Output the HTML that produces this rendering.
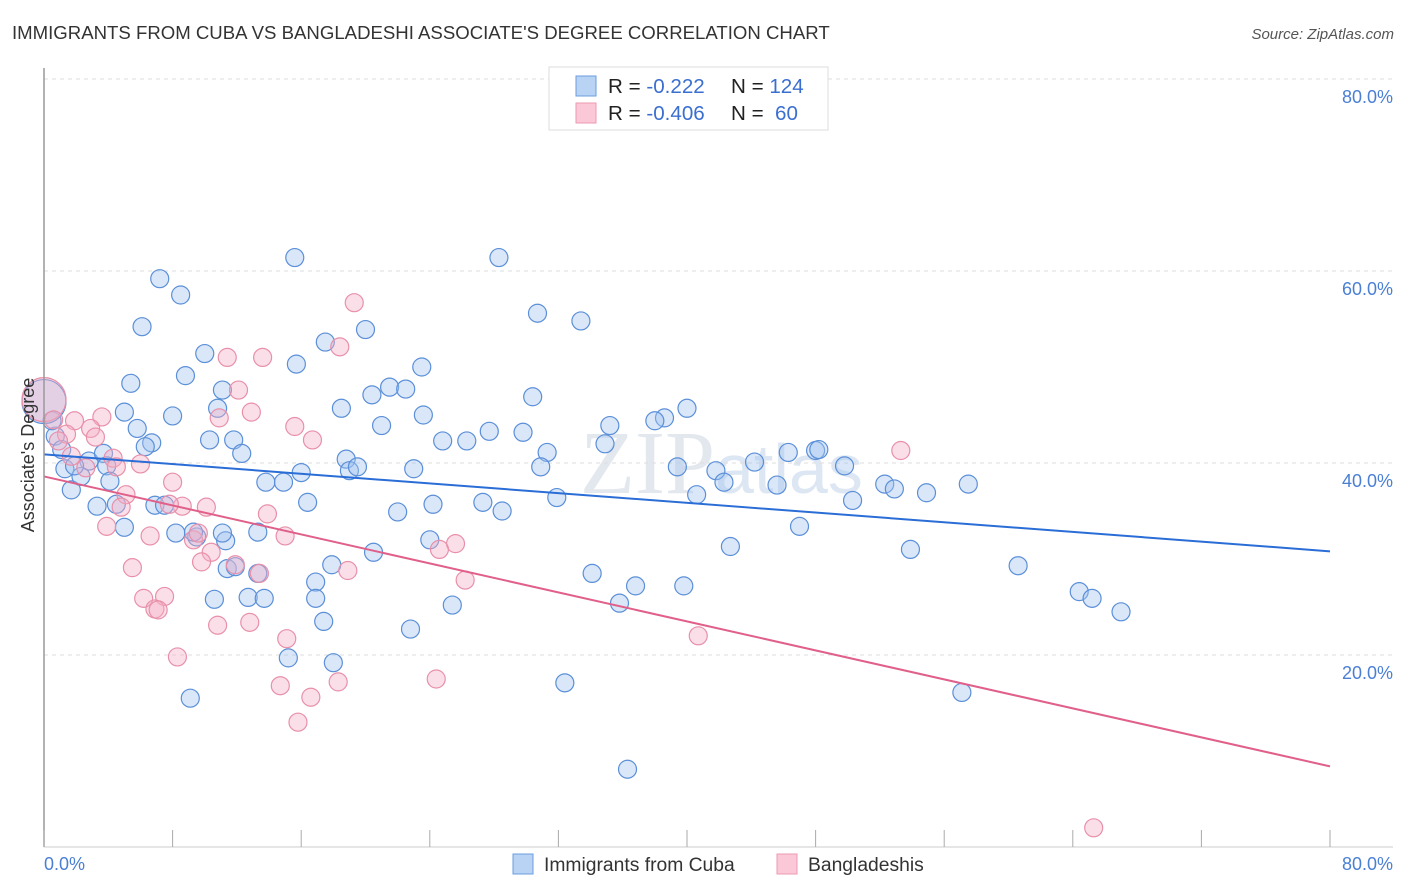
<!DOCTYPE html>
<html><head><meta charset="utf-8"><style>
body{margin:0;background:#fff;font-family:"Liberation Sans",sans-serif;}
#c{position:relative;width:1406px;height:892px;overflow:hidden;}
</style></head><body>
<div id="c">
<svg id="s" width="1406" height="892" xmlns="http://www.w3.org/2000/svg">
<text x="12" y="39" font-size="18.6" fill="#333">IMMIGRANTS FROM CUBA VS BANGLADESHI ASSOCIATE'S DEGREE CORRELATION CHART</text>
<text x="1394" y="39" font-size="15" fill="#555" font-style="italic" text-anchor="end">Source: ZipAtlas.com</text>
<text x="580" y="493" font-size="90" fill="#e3e8ef" font-family="Liberation Serif">ZIP</text>
<text x="715" y="493" font-size="70" fill="#dde6f3">atlas</text>
<g id="grid"></g><g id="pts"></g><g id="lines"></g>
<line x1="44" y1="68" x2="44" y2="847" stroke="#999" stroke-width="1.5"/>
<line x1="44" y1="847" x2="1393" y2="847" stroke="#ccc" stroke-width="1"/>
<g id="ticks"></g>
<text transform="translate(34,455) rotate(-90)" font-size="18" fill="#333" text-anchor="middle">Associate's Degree</text>
<text x="44" y="870" font-size="18" fill="#4a7fd4">0.0%</text>
<text x="1393" y="870" font-size="18" fill="#4a7fd4" text-anchor="end">80.0%</text>
<g>
<rect x="549" y="67" width="279" height="63" fill="#fff" stroke="#ddd"/>
<rect x="576" y="76" width="20" height="20" fill="#b9d3f5" stroke="#6a9ee0"/>
<rect x="576" y="103" width="20" height="20" fill="#fbc8d7" stroke="#ec9ab3"/>
<text x="608" y="93" font-size="20.6" fill="#222">R = <tspan fill="#3a6fd0"> -0.222</tspan><tspan x="731">N = </tspan><tspan fill="#3a6fd0">124</tspan></text>
<text x="608" y="120" font-size="20.6" fill="#222">R = <tspan fill="#3a6fd0">-0.406</tspan><tspan x="731">N = </tspan><tspan fill="#3a6fd0" x="775">60</tspan></text>
</g>
<g>
<rect x="513" y="854" width="20" height="20" fill="#b9d3f5" stroke="#6a9ee0"/>
<text x="544" y="871" font-size="19.3" fill="#333">Immigrants from Cuba</text>
<rect x="777" y="854" width="20" height="20" fill="#fbc8d7" stroke="#ec9ab3"/>
<text x="808" y="871" font-size="19.3" fill="#333">Bangladeshis</text>
</g>
</svg>
</div>
<script>
const yTicks=[20,40,60,80];
const xTicks=[0,8,16,24,32,40,48,56,64,72,80];
const cubaX=[7.2,8.5,6.1,15.6,28.3,30.7,33.4,10.0,15.7,17.5,20.0,23.5,5.4,8.8,11.1,21.5,22.5,20.4,30.4,5.0,8.0,10.8,18.5,23.6,40.0,38.6,38.0,5.8,6.7,6.3,10.3,11.8,12.3,21.0,24.8,26.3,27.7,29.8,31.3,35.2,34.9,0.7,0.5,1.3,1.7,2.8,3.7,2.3,3.9,4.1,3.3,5.0,4.5,6.9,7.5,8.2,9.5,9.3,11.3,11.4,10.6,13.3,13.8,14.9,16.0,16.4,18.8,19.0,19.5,23.0,22.0,24.2,27.3,28.5,30.9,31.9,40.6,39.4,41.8,42.3,44.2,45.6,46.3,48.0,48.2,49.8,50.3,52.3,52.9,54.9,57.5,47.0,42.7,53.9,60.6,34.1,36.8,39.8,35.8,20.5,17.9,16.9,16.9,17.4,12.7,13.7,24.0,25.4,22.8,15.2,18.0,9.1,32.4,36.3,57.1,64.4,65.2,67.0,0,1.1,13.3,11.9,11.1,1.9];
const cubaY=[59.2,57.5,54.2,61.4,61.4,55.6,54.8,51.4,50.3,52.6,53.9,50.0,48.3,49.1,47.6,47.9,47.7,47.1,46.9,45.3,44.9,45.7,45.7,45.0,45.7,44.7,44.4,43.6,42.1,41.7,42.4,42.4,41.0,43.9,42.3,42.3,43.3,43.2,41.1,43.9,42.0,42.8,44.4,39.4,37.2,40.2,41.0,38.6,39.7,38.1,35.5,33.3,35.7,35.6,35.6,32.7,32.3,32.8,31.9,29.0,25.8,32.8,38.0,38.0,39.0,35.9,40.4,39.2,39.6,39.4,34.9,35.7,35.9,35.0,39.6,36.4,36.7,39.6,39.2,38.0,40.1,37.7,41.1,41.3,41.4,39.7,36.1,37.8,37.3,36.9,37.8,33.4,31.3,31.0,29.3,28.5,27.2,27.2,25.4,30.7,29.4,27.6,25.9,23.5,26.0,25.9,32.0,25.2,22.7,19.7,19.2,15.5,17.1,8.1,16.1,26.6,25.9,24.5,46.4,41.4,28.5,29.2,32.7,39.7];
const bangX=[19.3,11.4,13.6,18.4,12.1,12.9,10.9,3.6,1.9,2.9,3.2,1.4,0.9,16.7,15.6,53.3,4.3,6.0,4.5,2.6,1.7,5.1,8.0,8.6,4.8,3.9,7.8,10.1,13.9,6.6,9.3,9.6,10.4,15.0,25.6,24.6,11.9,13.4,9.8,5.5,18.9,26.2,7.5,6.2,6.9,7.1,10.8,12.8,15.1,8.3,40.7,14.7,16.6,18.3,24.4,15.8,65.3,0,0.6];
const bangY=[56.7,51.0,51.0,52.1,47.6,45.3,44.7,44.8,44.4,43.6,42.7,43.0,42.3,42.4,43.8,41.3,40.5,39.9,39.6,39.5,40.7,36.7,38.0,35.5,35.4,33.4,35.7,35.4,34.7,32.4,32.0,32.7,30.7,32.4,31.6,31.0,29.4,28.5,29.7,29.1,28.8,27.8,26.1,25.9,24.8,24.7,23.1,23.4,21.7,19.8,22.0,16.8,15.6,17.2,17.5,13.0,2.0,46.6,44.5];
const cubaTrend=[40.9,30.8];
const bangTrend=[38.6,8.4];
const NS="http://www.w3.org/2000/svg";
const sx=v=>44+v*(1286/80), sy=v=>847-v*9.6;
function mk(tag,attrs,parent){const e=document.createElementNS(NS,tag);for(const k in attrs)e.setAttribute(k,attrs[k]);parent.appendChild(e);return e;}
const grid=document.getElementById('grid'),pts=document.getElementById('pts'),lines=document.getElementById('lines'),ticks=document.getElementById('ticks');
yTicks.forEach(t=>{
 const l=mk('line',{x1:44,x2:1393,y1:sy(t),y2:sy(t),stroke:'#ddd','stroke-dasharray':'4,4'},grid);
 
 
 const tx=mk('text',{x:1393,y:sy(t)+24,'font-size':18,fill:'#4a7fd4','text-anchor':'end'},grid);
 tx.textContent=t.toFixed(1)+'%';
 
 
});
xTicks.forEach(t=>{
 const l=mk('line',{x1:sx(t),x2:sx(t),y1:830,y2:847,stroke:'#aaa'},ticks);
 
 
});
function series(X,Y,fill,stroke,name){
 X.forEach((x,i)=>{
  const big=(x===0);
  const c=mk('circle',{cx:sx(x),cy:sy(Y[i]),r:big?22:9,fill:fill,stroke:stroke,'stroke-width':1.2},pts);
  
  
 });
}
series(cubaX,cubaY,'rgba(160,196,240,0.4)','#5b8fd8','cuba-point');
series(bangX,bangY,'rgba(245,175,198,0.4)','#e890aa','bangladeshi-point');
const l1=mk('line',{x1:sx(0),y1:sy(cubaTrend[0]),x2:sx(80),y2:sy(cubaTrend[1]),stroke:'#2a6dd6','stroke-width':2},lines);


const l2=mk('line',{x1:sx(0),y1:sy(bangTrend[0]),x2:sx(80),y2:sy(bangTrend[1]),stroke:'#e0608a','stroke-width':2},lines);


</script>
</body></html>
